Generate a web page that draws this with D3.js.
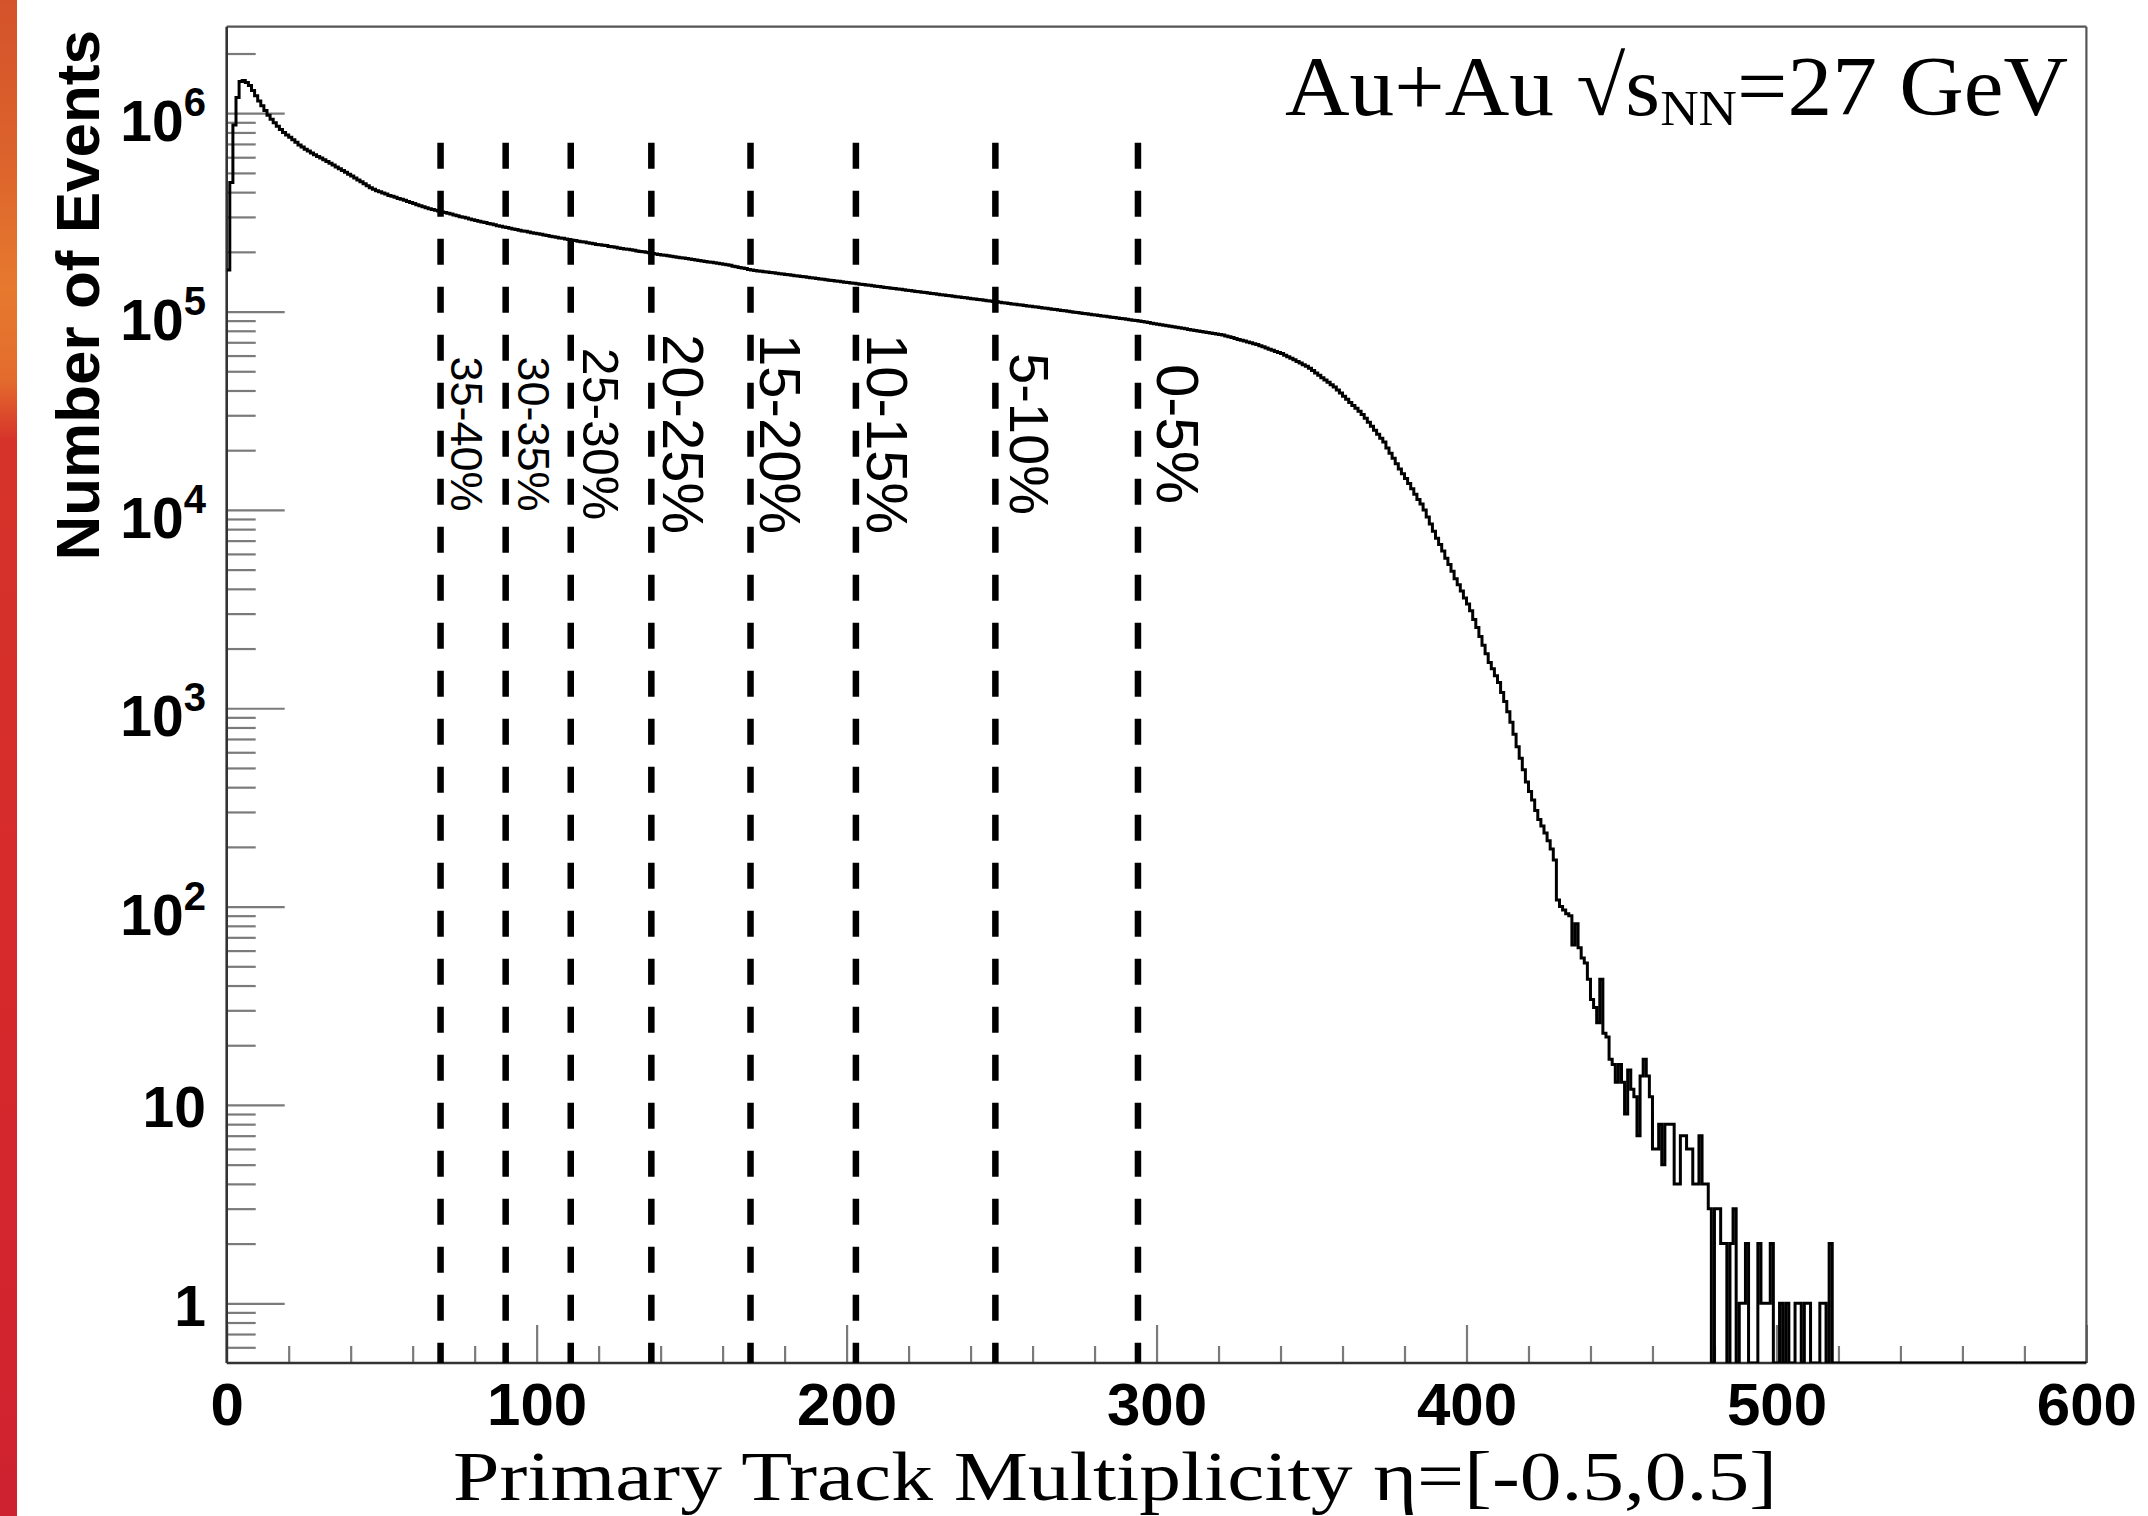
<!DOCTYPE html>
<html><head><meta charset="utf-8">
<script src="https://cdn.jsdelivr.net/npm/d3@7"></script>
<style>html,body{margin:0;padding:0;background:#fff}svg{display:block}</style>
</head><body>
<svg id="c" width="2148" height="1516"></svg>
<script>
// ---------------- DATA ----------------
// Number of events per multiplicity bin (bin width 1, starting at 0)
const eventsLow = [
162000,447000,871000,1200000,1445000,1462000,1429000,1380000,1303000,1225000,
1153000,1091000,1033000,977000,931000,895000,859000,828000,800000,776000,
757000,735000,713000,692000,675000,658000,644000,630000,617000,605000,
594000,583000,571000,560000,548000,536000,525000,514000,504000,493000,
483000,472000,461000,451000,441000,431000,421000,414000,407000,402000,
396000,391000,385000,381000,377000,372000,368000,364000,359000,355000,
351000,346000,342000,338000,334000,330000,327000,324000,321000,318000,
316000,313000,310000,307000,304000,301000,299000,296000,293000,290000,
288000,285000,283000,281000,278000,276000,274000,271000,269000,267000,
265000,263000,261000,259000,257000,255000,254000,252000,250000,248000,
247000,245000,243000,242000,240000,238000,237000,235000,234000,232000,
231000,229000,228000,226000,225000,224000,222000,221000,220000,218000,
217000,216000,215000,213000,212000,211000,209000,208000,207000,206000,
205000,204000,202000,201000,200000,199000,198000,196000,195000,194000,
193000,192000,191000,190000,189000,188000,187000,186000,185000,184000,
183000,182000,181000,180000,179000,178000,177000,176000,175000,174000,
173000,172000,171000,169000,168000,167000,166000,165000,163000,162000,
161000,160300,159600,158800,158100,157400,156700,156000,155300,154600,
153800,153100,152400,151700,151000,150300,149600,148900,148200,147500,
146800,146100,145400,144700,144000,143400,142700,142000,141400,140700
];
const eventsMid = [
140000,139400,138800,138100,137500,136800,136200,135600,134900,134300,
133700,133000,132400,131800,131200,130600,130000,129400,128800,128200,
127600,127000,126400,125800,125200,124600,124000,123500,122900,122300,
121700,121200,120600,120000,119500,118900,118400,117800,117300,116700,
116200,115600,115100,114600,114000,113500,113000,112400,111900,111400,
110900,110300,109800,109300,108800,108300,107800,107300,106800,106300,
105800,105300,104800,104300,103800,103300,102800,102300,101800,101300,
100800,100300,99800,99300,98800,98400,97900,97400,96900,96500,
96000,95500,95000,94600,94100,93700,93200,92800,92300,91900,
91400,91000,90500,90100,89600,89100,88500,88000,87400,86900,
86400,85900,85300,84800,84300,83800,83300,82800,82300,81800,
81300,80800,80300,79800,79300,78900,78400,77900,77500,77000,
76600,76100,75400,74700,73900,73200,72400,71700,71000,70300,
69600,68900,68200,67300,66400,65500,64600,63800,62900,62100,
61400,60300,59200,58100,57100,56000,55000,54000,53000,51800,
50400,49000,47700,46400,45200,44000,42800,41700,40200,38800,
37400,36100,34800,33600,32500,31400,30300,29000,27700,26400,
25200,24100,23000,22000,20500,19300,18200,17100,16100,15200,
14400,13600,12800,12000,11300,10700,10000,9200,8500,7800,
7200,6700,6200,5700,5300,4900,4500,4200,3900,3600
];
const eventsTail = [
3350,3100,2800,2550,2300,2080,1880,1700,1580,1460,
1350,1200,1080,960,850,740,640,560,490,425,
380,345,305,275,255,235,215,195,172,108,
100,96,92,90,64,82,62,55,52,43,
34,31,26,43,23,22,17,16,13,16,
13,9,15,12,11,7,14,17,14,11,
6,6,8,5,8,8,8,4,4,7,
7,6,6,4,4,7,4,4,3,0,
3,3,2,2,0,2,3,0,1,1,
2,0,0,0,2,1,1,1,2,0,
0,1,0,1,0,0,1,1,0,1,
1,0,0,0,1,1,0,2,0
];
// centrality cuts (multiplicity) and their labels
const centralityCuts   = [69, 90, 111, 137, 169, 203, 248, 294];
const centralityLabels = ["35-40%","30-35%","25-30%","20-25%","15-20%","10-15%","5-10%","0-5%"];
const cutTopValue = 7.1e5;
// axis ticks
const xTickValues = [0, 100, 200, 300, 400, 500, 600];
const yTickExponents = [0, 1, 2, 3, 4, 5, 6];
const X_RANGE = [0, 600];
const Y_RANGE = [0.5, 2.73e6];

// ---------------- STYLE ----------------
const labelFont = [45, 45, 50, 58, 58, 58, 56, 60];
const labelGap  = [10, 12, 12, 12, 9, 11, 15, 19];

// ---------------- DRAW ----------------
const svg = d3.select("#c");
const L = 226.7, R = 2086.4, T = 26.7, B = 1363;

// left decorative strip (background of the source slide)
const defs = svg.append("defs");
const g0 = defs.append("linearGradient").attr("id","strip").attr("x1",0).attr("y1",0).attr("x2",0).attr("y2",1);
[[0,"#d4532b"],[0.1,"#dc622c"],[0.19,"#e6792e"],[0.25,"#e36c2d"],[0.29,"#d6342a"],[0.6,"#d62a2b"],[1,"#cf2230"]]
  .forEach(s => g0.append("stop").attr("offset", s[0]).attr("stop-color", s[1]));
svg.append("rect").attr("x",0).attr("y",0).attr("width",17).attr("height",1516).attr("fill","url(#strip)");

const x = d3.scaleLinear().domain(X_RANGE).range([L, R]);
const y = d3.scaleLog().domain(Y_RANGE).range([B, T]);

defs.append("clipPath").attr("id","frame").append("rect")
  .attr("x", L).attr("y", T).attr("width", R - L).attr("height", B - T);

const tickColor = "#7a7a7a";

// x minor ticks
const xMinor = d3.range(20, 600, 20).filter(v => v % 100 !== 0);
svg.append("g").attr("transform", `translate(0,${B})`)
  .call(d3.axisBottom(x).tickValues(xMinor).tickSizeInner(-17).tickSizeOuter(0).tickFormat(""))
  .call(g => g.select(".domain").remove())
  .call(g => g.selectAll("line").attr("stroke", tickColor).attr("stroke-width", 2.2));

// x major ticks + labels
svg.append("g").attr("transform", `translate(0,${B})`)
  .call(d3.axisBottom(x).tickValues(xTickValues).tickSizeInner(-38).tickSizeOuter(0).tickFormat(d3.format("d")))
  .call(g => g.select(".domain").remove())
  .call(g => g.selectAll("line").attr("stroke", tickColor).attr("stroke-width", 2.2))
  .call(g => g.selectAll("text").attr("y", 62).attr("dy", null)
      .attr("font-family", "'Liberation Sans', Arial, sans-serif").attr("font-weight", "bold")
      .attr("font-size", 60).attr("fill", "#000"));

// y minor ticks
const yMinor = [];
[0.6, 0.7, 0.8, 0.9].forEach(v => yMinor.push(v));
for (let e = 0; e <= 6; e++) for (let k = 2; k <= 9; k++) { const v = k * Math.pow(10, e); if (v <= Y_RANGE[1]) yMinor.push(v); }
svg.append("g").attr("transform", `translate(${L},0)`)
  .call(d3.axisLeft(y).tickValues(yMinor).tickSizeInner(-29).tickSizeOuter(0).tickFormat(""))
  .call(g => g.select(".domain").remove())
  .call(g => g.selectAll("line").attr("stroke", tickColor).attr("stroke-width", 2.2));

// y major ticks
const yMajor = yTickExponents.map(e => Math.pow(10, e));
svg.append("g").attr("transform", `translate(${L},0)`)
  .call(d3.axisLeft(y).tickValues(yMajor).tickSizeInner(-58).tickSizeOuter(0).tickFormat(""))
  .call(g => g.select(".domain").remove())
  .call(g => g.selectAll("line").attr("stroke", tickColor).attr("stroke-width", 2.2));

// y labels
const yl = svg.append("g").attr("font-family", "'Liberation Sans', Arial, sans-serif").attr("font-weight", "bold").attr("fill", "#000");
yTickExponents.forEach(e => {
  const yy = y(Math.pow(10, e));
  const t = yl.append("text").attr("x", 206).attr("text-anchor", "end");
  if (e === 0) { t.attr("y", yy + 23).attr("font-size", 57).text("1"); }
  else if (e === 1) { t.attr("y", yy + 22).attr("font-size", 57).text("10"); }
  else {
    t.attr("y", yy + 28).attr("font-size", 57);
    t.append("tspan").text("10");
    t.append("tspan").attr("font-size", 40).attr("dy", -25).text(String(e));
  }
});

// frame
svg.append("line").attr("x1", L).attr("x2", R).attr("y1", T).attr("y2", T).attr("stroke", "#555").attr("stroke-width", 2.2);
svg.append("line").attr("x1", R).attr("x2", R).attr("y1", T).attr("y2", B).attr("stroke", "#555").attr("stroke-width", 2.2);
svg.append("line").attr("x1", L).attr("x2", L).attr("y1", T).attr("y2", B).attr("stroke", "#333").attr("stroke-width", 2.6);
svg.append("line").attr("x1", L).attr("x2", R).attr("y1", B).attr("y2", B).attr("stroke", "#333").attr("stroke-width", 2.6);

// histogram
const events = eventsLow.concat(eventsMid, eventsTail);
const pts = events.map((v, i) => [i, v > 0 ? v : Y_RANGE[0]]);
pts.push([events.length, pts[pts.length - 1][1]]);
pts.push([X_RANGE[1], Y_RANGE[0]]);
const line = d3.line().x(d => x(d[0])).y(d => y(d[1])).curve(d3.curveStepAfter);
svg.append("path").attr("clip-path", "url(#frame)")
  .attr("d", line(pts)).attr("fill", "none").attr("stroke", "#000").attr("stroke-width", 3).attr("stroke-linejoin", "miter");

// centrality dashed lines
svg.append("g").selectAll("line").data(centralityCuts).join("line")
  .attr("x1", d => x(d)).attr("x2", d => x(d))
  .attr("y1", y(cutTopValue)).attr("y2", y(Y_RANGE[0]))
  .attr("stroke", "#000").attr("stroke-width", 6.5).attr("stroke-dasharray", "26,22");

// centrality labels
svg.append("g").selectAll("text").data(centralityLabels).join("text")
  .attr("transform", (d, i) => `translate(${x(centralityCuts[i]) + labelGap[i]},434) rotate(90)`)
  .attr("text-anchor", "middle")
  .attr("font-family", "'Liberation Sans', Arial, sans-serif")
  .attr("font-size", (d, i) => labelFont[i]).attr("fill", "#000")
  .text(d => d);

// y axis title
svg.append("text").attr("transform", "translate(99,30) rotate(-90)")
  .attr("text-anchor", "end").attr("font-family", "'Liberation Sans', Arial, sans-serif")
  .attr("font-weight", "bold").attr("font-size", 62).attr("fill", "#000").text("Number of Events");

// x axis title
svg.append("text").attr("x", 453).attr("y", 1500)
  .attr("font-family", "'Liberation Serif', 'Times New Roman', serif").attr("font-size", 69).attr("fill", "#000")
  .attr("textLength", 1324).attr("lengthAdjust", "spacingAndGlyphs")
  .text("Primary Track Multiplicity η=[-0.5,0.5]");

// plot title
const tt = svg.append("text").attr("x", 1285).attr("y", 115)
  .attr("font-family", "'Liberation Serif', 'Times New Roman', serif").attr("font-size", 84).attr("fill", "#000")
  .attr("textLength", 783).attr("lengthAdjust", "spacingAndGlyphs");
tt.append("tspan").text("Au+Au √s");
tt.append("tspan").attr("font-size", 50).attr("dy", 10).text("NN");
tt.append("tspan").attr("dy", -10).text("=27 GeV");
</script>
</body></html>
